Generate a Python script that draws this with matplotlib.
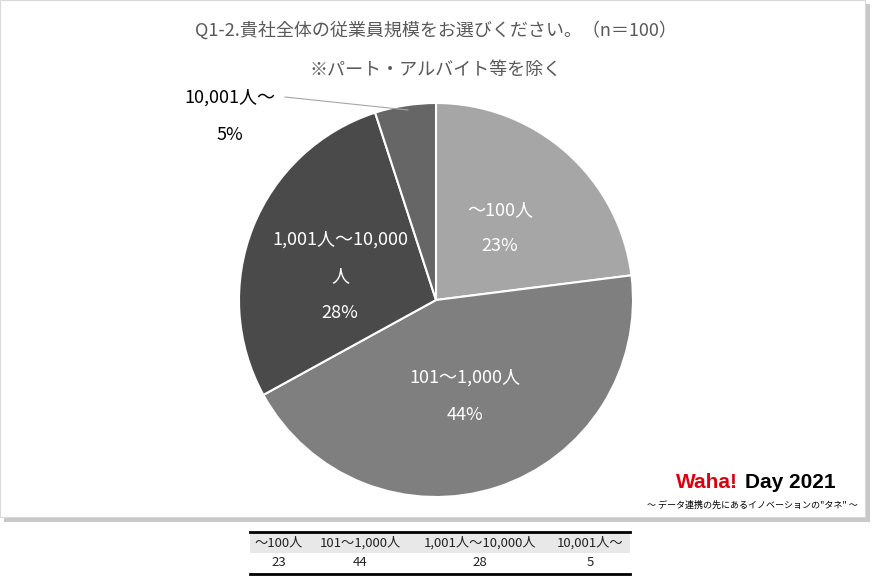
import matplotlib
matplotlib.use("Agg")
import matplotlib.pyplot as plt
from matplotlib.patches import Rectangle

plt.rcParams['font.family'] = ['Noto Sans CJK JP', 'DejaVu Sans']

categories = ['～100人', '101～1,000人', '1,001人～10,000人', '10,001人～']
values = [23, 44, 28, 5]
colors = ['#a6a6a6', '#7f7f7f', '#4a4a4a', '#666666']

fig = plt.figure(figsize=(8.8, 5.8), dpi=100)
W, H = 880, 580

def fx(x):
    return x / W

def fy(y):
    return 1 - y / H

# panel with shadow (behind the pie)
fig.patches.append(Rectangle((fx(4), fy(522)), fx(866), 518 / H, transform=fig.transFigure,
                             facecolor='#c8c8c8', edgecolor='none', zorder=-2))
fig.patches.append(Rectangle((fx(0), fy(517)), fx(865), 517 / H, transform=fig.transFigure,
                             facecolor='white', edgecolor='#d9d9d9', lw=0.8, zorder=-1))

fig.text(fx(436), fy(30), 'Q1-2.貴社全体の従業員規模をお選びください。（n＝100）',
         ha='center', va='center', fontsize=13, color='#595959')
fig.text(fx(436), fy(70), '※パート・アルバイト等を除く',
         ha='center', va='center', fontsize=13, color='#595959')

r = 197
ax = fig.add_axes([fx(436 - r), fy(300 + r), fx(2 * r), 2 * r / H])
ax.patch.set_alpha(0)
ax.pie(values, colors=colors, startangle=90, counterclock=False,
       wedgeprops=dict(edgecolor='white', linewidth=1.5))
ax.set_aspect('auto')
ax.set_xlim(-1, 1)
ax.set_ylim(-1, 1)

# in-slice labels
lab = [(fx(500), fy(210), '～100人'), (fx(500), fy(246), '23%'),
       (fx(465), fy(378), '101～1,000人'), (fx(465), fy(415), '44%'),
       (fx(340), fy(240), '1,001人～10,000'), (fx(340), fy(276), '人'), (fx(340), fy(313), '28%')]
for x, y, t in lab:
    fig.text(x, y, t, ha='center', va='center', fontsize=13, color='white')

fig.text(fx(230), fy(98), '10,001人～', ha='center', va='center', fontsize=13, color='black')
fig.text(fx(230), fy(135), '5%', ha='center', va='center', fontsize=13, color='black')
fig.add_artist(plt.Line2D([fx(285), fx(408)], [fy(97), fy(110)], transform=fig.transFigure,
                          color='#a6a6a6', lw=0.8))

# logo
fig.text(fx(676), fy(482), 'Waha!', ha='left', va='center', fontsize=15,
         fontweight='bold', family='Liberation Sans', color='#d7000f')
fig.text(fx(745), fy(482), 'Day 2021', ha='left', va='center', fontsize=15,
         fontweight='bold', family='Liberation Sans', color='black')
fig.text(fx(752), fy(505), '～ データ連携の先にあるイノベーションの"タネ" ～', ha='center',
         va='center', fontsize=6.5, color='black')

# data table
fig.patches.append(Rectangle((fx(250), fy(553)), fx(380), 20 / H, transform=fig.transFigure,
                             facecolor='#e8e8e8', edgecolor='none'))
for yy, lw in [(532, 2), (574, 2)]:
    fig.add_artist(plt.Line2D([fx(250), fx(630)], [fy(yy), fy(yy)],
                              transform=fig.transFigure, color='black', lw=lw))
colx = [279, 360, 480, 590]
for x, c, v in zip(colx, categories, values):
    fig.text(fx(x), fy(543), c, ha='center', va='center', fontsize=9.5, color='#222222')
    fig.text(fx(x), fy(563), str(v), ha='center', va='center', fontsize=9.5, color='#222222')

fig.savefig('out.png', dpi=100)
